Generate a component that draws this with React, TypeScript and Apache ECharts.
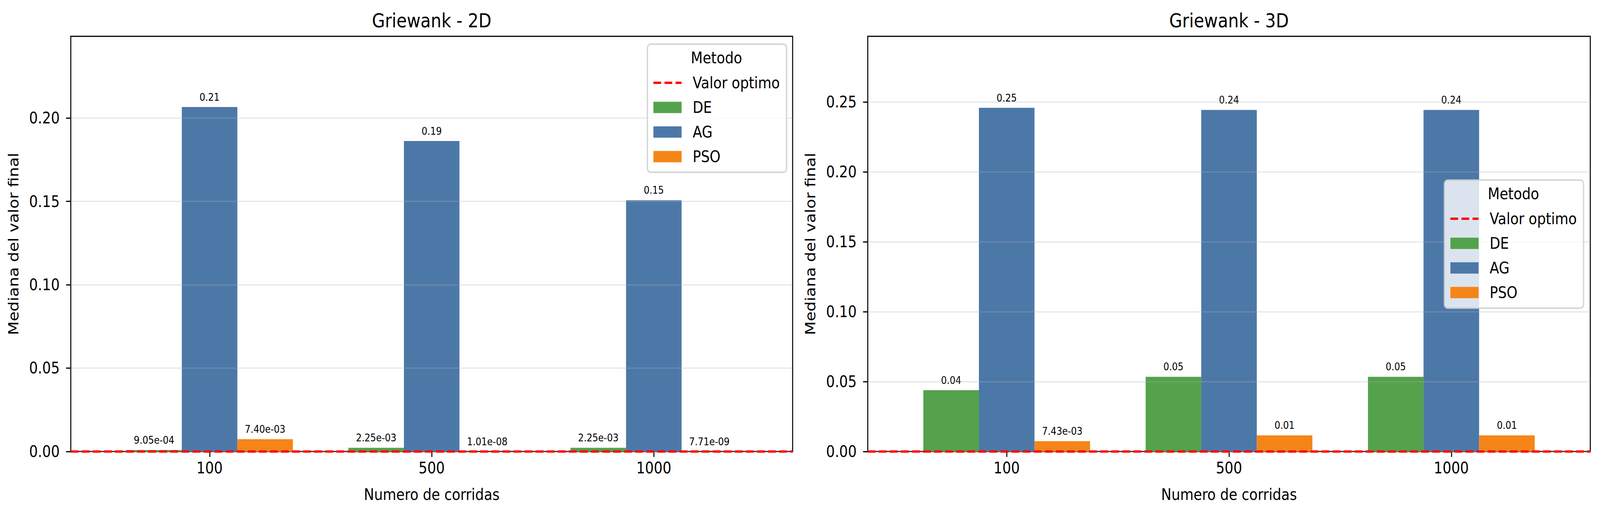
import React, { useEffect, useRef } from 'react';
import * as echarts from 'echarts';

// ---- data ----
const CATEGORIES = ['100', '500', '1000'];
const METHODS = ['DE', 'AG', 'PSO'];
const LINE_NAME = 'Valor optimo';
const TITLES = ['Griewank - 2D', 'Griewank - 3D'];

const DE_2D = [0.000905, 0.002251, 0.002251];
const AG_2D = [0.2066, 0.1862, 0.1507];
const PSO_2D = [0.0074, 1.01e-8, 7.71e-9];

const DE_3D = [0.0439, 0.0534, 0.0534];
const AG_3D = [0.2459, 0.2443, 0.2443];
const PSO_3D = [0.00743, 0.0115, 0.0115];

const OPTIMO = 0;
const Y_TICKS_2D = [0, 0.05, 0.1, 0.15, 0.2];
const Y_TICKS_3D = [0, 0.05, 0.1, 0.15, 0.2, 0.25];
const Y_MAX = [0.249, 0.297];
const X_MIN = -0.625;
const X_MAX = 2.625;
const CAT_POS = [0, 1, 2];

// ---- styles / layout ----
const FIG_W = 4770;
const FIG_H = 1316;
const FONT = 'DejaVu Sans';
const COLORS: Record<string, string> = { DE: '#54a24b', AG: '#4c78a8', PSO: '#f58518' };
const GRIDS = [
  { left: 211, top: 93, width: 2152, height: 1063 },
  { left: 2587, top: 93, width: 2154, height: 1063 },
];
const LEGENDS = [
  { left: 1930, top: 113, cx: 2136, ty: 148 },
  { left: 4306, top: 461, cx: 4512, ty: 496 },
];

function fmt(v: number): string {
  if (v < 0.01) {
    const [m, e] = v.toExponential(2).split('e');
    const sign = e[0];
    const digits = e.slice(1).padStart(2, '0');
    return `${m}e${sign}${digits}`;
  }
  return v.toFixed(2);
}

export default function App() {
  const ref = useRef<HTMLDivElement>(null);
  const vw = typeof window !== 'undefined' ? window.innerWidth : FIG_W;
  const sx = Math.min(1, vw / FIG_W);

  useEffect(() => {
    document.body.style.margin = '0';
    document.body.style.overflow = 'hidden';
    document.documentElement.style.overflow = 'hidden';
    if (!ref.current) return;
    const chart = echarts.init(ref.current, undefined, { renderer: 'svg' });

    const dataSets = [
      { DE: DE_2D, AG: AG_2D, PSO: PSO_2D },
      { DE: DE_3D, AG: AG_3D, PSO: PSO_3D },
    ];
    const yTicks = [Y_TICKS_2D, Y_TICKS_3D];

    const series: any[] = [];
    [0, 1].forEach((gi) => {
      METHODS.forEach((m) => {
        const vals = (dataSets[gi] as any)[m] as number[];
        series.push({
          type: 'bar',
          name: m,
          xAxisIndex: gi,
          yAxisIndex: gi,
          data: vals.map((v, i) => [CAT_POS[i], v]),
          barWidth: '25%',
          barGap: '0%',
          itemStyle: { color: COLORS[m] },
          label: {
            show: true,
            position: 'top',
            distance: 12,
            fontSize: 27,
            fontFamily: FONT,
            color: '#000',
            formatter: (p: any) => fmt(p.value[1]),
          },
          z: 2,
        });
      });
      series.push({
        type: 'line',
        name: LINE_NAME,
        xAxisIndex: gi,
        yAxisIndex: gi,
        data: [
          [X_MIN, OPTIMO],
          [X_MAX, OPTIMO],
        ],
        symbol: 'none',
        showSymbol: false,
        lineStyle: { color: '#ff0000', width: 6, type: [23, 10] },
        itemStyle: { color: '#ff0000' },
        z: 5,
        silent: true,
      });
    });

    const option: any = {
      animation: false,
      backgroundColor: '#ffffff',
      textStyle: { fontFamily: FONT },
      title: [0, 1].map((gi) => ({
        text: TITLES[gi],
        left: GRIDS[gi].left + GRIDS[gi].width / 2 - 5,
        top: 23,
        textAlign: 'center',
        textStyle: { fontSize: 50, fontWeight: 'normal', color: '#000', fontFamily: FONT },
      })),
      grid: GRIDS.map((g) => ({
        ...g,
        show: true,
        borderColor: '#000',
        borderWidth: 3,
        backgroundColor: 'transparent',
        containLabel: false,
      })),
      xAxis: [0, 1].map((gi) => ({
        type: 'value',
        gridIndex: gi,
        min: X_MIN,
        max: X_MAX,
        axisLine: { show: false, onZero: false },
        splitLine: { show: false },
        axisTick: {
          show: true,
          length: 14,
          lineStyle: { color: '#000', width: 3 },
          customValues: CAT_POS,
        },
        axisLabel: {
          customValues: CAT_POS,
          formatter: (v: number) => CATEGORIES[Math.round(v)] ?? '',
          fontSize: 41,
          color: '#000',
          margin: 22,
          fontFamily: FONT,
        },
        name: 'Numero de corridas',
        nameLocation: 'middle',
        nameGap: 90,
        nameTextStyle: { fontSize: 41, color: '#000', fontFamily: FONT },
      })),
      yAxis: [0, 1].map((gi) => ({
        type: 'value',
        gridIndex: gi,
        min: 0,
        max: Y_MAX[gi],
        interval: 0.05,
        z: 3,
        axisLine: { show: false, onZero: false },
        axisTick: {
          show: true,
          length: 14,
          lineStyle: { color: '#000', width: 3 },
          customValues: yTicks[gi],
        },
        axisLabel: {
          customValues: yTicks[gi],
          formatter: (v: number) => v.toFixed(2),
          fontSize: 41,
          color: '#000',
          margin: 33,
          fontFamily: FONT,
        },
        splitLine: {
          show: true,
          lineStyle: { color: 'rgba(176,176,176,0.3)', width: 3 },
        },
        name: 'Mediana del valor final',
        nameLocation: 'middle',
        nameGap: 150,
        nameRotate: 90,
        nameTextStyle: { fontSize: 41, color: '#000', fontFamily: FONT },
      })),
      legend: [0, 1].map((gi) => ({
        orient: 'vertical',
        left: LEGENDS[gi].left,
        top: LEGENDS[gi].top,
        data: [
          {
            name: LINE_NAME,
            lineStyle: { width: 6, type: [23, 10], color: '#ff0000' },
            itemStyle: { color: 'rgba(0,0,0,0)', opacity: 0, borderWidth: 0 },
          },
          ...METHODS.map((m) => ({ name: m, icon: 'rect' })),
        ],
        itemWidth: 84,
        itemHeight: 29,
        itemGap: 21,
        padding: [78, 20, 19, 15],
        backgroundColor: 'rgba(255,255,255,0.8)',
        borderColor: 'rgba(204,204,204,0.8)',
        borderWidth: 4,
        borderRadius: 10,
        z: 6,
        textStyle: { fontSize: 41, color: '#000', lineHeight: 42, padding: [0, 0, 0, 28], fontFamily: FONT },
      })),
      graphic: [0, 1].map((gi) => ({
        type: 'text',
        x: LEGENDS[gi].cx,
        y: LEGENDS[gi].ty,
        z: 100,
        style: {
          text: 'Metodo',
          align: 'center',
          verticalAlign: 'middle',
          fontSize: 41,
          fontFamily: FONT,
          fill: '#000',
        },
      })),
      series,
    };

    chart.setOption(option);
    return () => chart.dispose();
  }, []);

  return (
    <div style={{ width: vw, height: FIG_H, overflow: 'hidden', background: '#fff' }}>
      <div
        ref={ref}
        style={{
          width: FIG_W,
          height: FIG_H,
          transform: `scaleX(${sx})`,
          transformOrigin: '0 0',
        }}
      />
    </div>
  );
}
